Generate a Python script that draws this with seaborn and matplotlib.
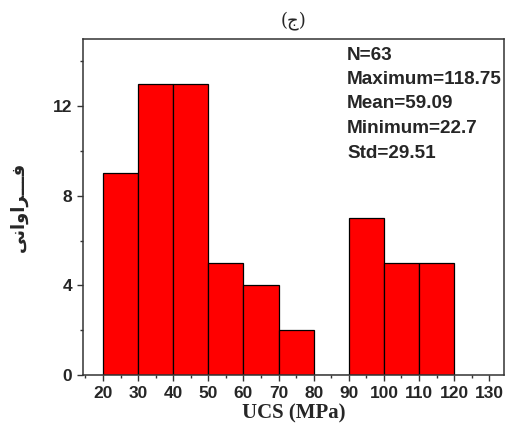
import matplotlib
matplotlib.use("Agg")
import matplotlib.pyplot as plt
from matplotlib.ticker import MultipleLocator
import numpy as np
import seaborn as sns

# Data
bin_edges = [20, 30, 40, 50, 60, 70, 80, 90, 100, 110, 120]
counts = [9, 13, 13, 5, 4, 2, 0, 7, 5, 5]
x_ticks = [20, 30, 40, 50, 60, 70, 80, 90, 100, 110, 120, 130]
y_ticks = [0, 4, 8, 12]
stats_lines = ["N=63", "Maximum=118.75", "Mean=59.09", "Minimum=22.7", "Std=29.51"]
title_text = "(\uFE9D)"  # (ج)
# فـــراوانی in presentation forms, visual order
ylabel_logical = ["\uFED3", "\u0640", "\u0640", "\u0640", "\uFEAE", "\uFE8D", "\uFEED", "\uFE8D", "\uFEE7", "\uFBFD"]
ylabel_text = "".join(reversed(ylabel_logical))

sns.set_style("ticks")
plt.rcParams["font.family"] = ["Liberation Sans", "DejaVu Sans"]

centers = [(a + b) / 2 for a, b in zip(bin_edges[:-1], bin_edges[1:])]

fig = plt.figure(figsize=(5.13, 4.33), dpi=100)
ax = fig.add_axes([83 / 513, 58 / 433, 421 / 513, 336 / 433])
sns.histplot(x=centers, weights=counts, bins=bin_edges, color="#FF0000",
             edgecolor="black", linewidth=0.9, alpha=1.0, ax=ax)

ax.set_xlim(14.3, 134.2)
ax.set_ylim(0, 15)
ax.set_xticks(x_ticks)
ax.set_yticks(y_ticks)
ax.xaxis.set_minor_locator(MultipleLocator(5))
ax.yaxis.set_minor_locator(MultipleLocator(2))
ax.tick_params(axis="both", which="major", direction="out", length=4, width=1,
               labelsize=12.5, color="#333333", pad=4)
ax.tick_params(axis="both", which="minor", direction="out", length=2.5, width=1, color="#333333")
for lab in ax.get_xticklabels() + ax.get_yticklabels():
    lab.set_fontweight("bold")
for s in ax.spines.values():
    s.set_visible(True)
    s.set_color("#333333")
    s.set_linewidth(1.1)

ax.set_xlabel("UCS (MPa)", fontsize=15, fontweight="bold",
              family=["Liberation Serif", "DejaVu Serif"], labelpad=2)
ax.set_ylabel(ylabel_text, fontsize=13, fontweight="bold",
              family=["DejaVu Sans"], labelpad=18)

fig.text(293 / 513, 1 - 21 / 433, title_text, ha="center", va="center",
         fontsize=13, family=["DejaVu Serif", "DejaVu Sans"])

for i, line in enumerate(stats_lines):
    ax.text(347 / 513, 1 - (55 + 24.5 * i) / 433, line, transform=fig.transFigure,
            ha="left", va="center", fontsize=13.6, fontweight="bold")

fig.savefig("out.png", dpi=100)
